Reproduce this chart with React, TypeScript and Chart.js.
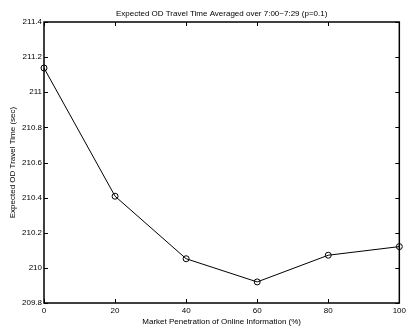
import React, { useEffect, useRef } from "react";
import { Chart, registerables } from "chart.js";

Chart.register(...registerables);

const penetration = [0, 20, 40, 60, 80, 100];
const travelTime = [211.138, 210.408, 210.052, 209.92, 210.072, 210.121];
const xTicks = [0, 20, 40, 60, 80, 100];
const yTicks = [209.8, 210, 210.2, 210.4, 210.6, 210.8, 211, 211.2, 211.4];

const titleText = "Expected OD Travel Time Averaged over 7:00~7:29 (p=0.1)";
const xTitle = "Market Penetration of Online Information (%)";
const yTitle = "Expected OD Travel Time (sec)";

const FONT = "'Liberation Sans', Arial, Helvetica, sans-serif";

const framePlugin = {
  id: "frame",
  afterDraw(chart: any) {
    const { ctx, chartArea } = chart;
    const { left, right, top, bottom } = chartArea;
    const xs = chart.scales.x;
    const ys = chart.scales.y;
    ctx.save();
    ctx.strokeStyle = "#000";
    ctx.lineWidth = 1;
    const L = 4;
    ctx.beginPath();
    xs.ticks.forEach((t: any) => {
      const px = Math.round(xs.getPixelForValue(t.value)) + 0.5;
      ctx.moveTo(px, bottom);
      ctx.lineTo(px, bottom - L);
      ctx.moveTo(px, top);
      ctx.lineTo(px, top + L);
    });
    ys.ticks.forEach((t: any) => {
      const py = Math.round(ys.getPixelForValue(t.value)) + 0.5;
      ctx.moveTo(left, py);
      ctx.lineTo(left + L, py);
      ctx.moveTo(right, py);
      ctx.lineTo(right - L, py);
    });
    ctx.stroke();
    ctx.lineWidth = 1.5;
    ctx.strokeRect(left, top, right - left, bottom - top);
    ctx.restore();
  },
};

export default function App() {
  const ref = useRef<HTMLCanvasElement>(null);
  useEffect(() => {
    document.body.style.margin = "0";
    const chart = new Chart(ref.current!, {
      type: "line",
      data: {
        datasets: [
          {
            data: penetration.map((x, i) => ({ x, y: travelTime[i] })),
            borderColor: "#000",
            borderWidth: 1,
            backgroundColor: "rgba(0,0,0,0)",
            pointRadius: 3,
            pointBorderWidth: 1,
            pointBorderColor: "#000",
            pointBackgroundColor: "rgba(0,0,0,0)",
            tension: 0,
            clip: false as any,
          },
        ],
      },
      options: {
        responsive: false,
        animation: false,
        layout: { padding: { top: 0, right: 9, bottom: 0, left: 0 } },
        plugins: {
          legend: { display: false },
          tooltip: { enabled: false },
          title: {
            display: true,
            fullSize: false,
            text: titleText,
            color: "#000",
            font: { family: FONT, size: 8, weight: "normal" },
            padding: { top: 9, bottom: 3.4 },
          },
        },
        scales: {
          x: {
            type: "linear",
            min: 0,
            max: 100,
            afterBuildTicks: (s: any) => {
              s.ticks = xTicks.map((v) => ({ value: v }));
            },
            afterFit: (s: any) => {
              s.height = 28;
            },
            grid: { display: false, drawTicks: false },
            border: { display: false },
            ticks: {
              color: "#000",
              font: { family: FONT, size: 8 },
              padding: 3,
              maxRotation: 0,
              autoSkip: false,
            },
            title: {
              display: true,
              text: xTitle,
              color: "#000",
              font: { family: FONT, size: 8 },
              padding: { top: 0, bottom: 4.7 },
            },
          },
          y: {
            type: "linear",
            min: 209.8,
            max: 211.4,
            afterBuildTicks: (s: any) => {
              s.ticks = yTicks.map((v) => ({ value: v }));
            },
            afterFit: (s: any) => {
              s.width = 44;
            },
            grid: { display: false, drawTicks: false },
            border: { display: false },
            ticks: {
              color: "#000",
              font: { family: FONT, size: 8 },
              padding: 2,
              autoSkip: false,
              callback: (v: any) => String(Number(Number(v).toFixed(1))),
            },
            title: {
              display: true,
              text: yTitle,
              color: "#000",
              font: { family: FONT, size: 8 },
              padding: { top: 8, bottom: 0 },
            },
          },
        },
      },
      plugins: [framePlugin],
    });
    return () => chart.destroy();
  }, []);
  return (
    <div style={{ width: 409, height: 331 }}>
      <canvas ref={ref} width={409} height={331} />
    </div>
  );
}
